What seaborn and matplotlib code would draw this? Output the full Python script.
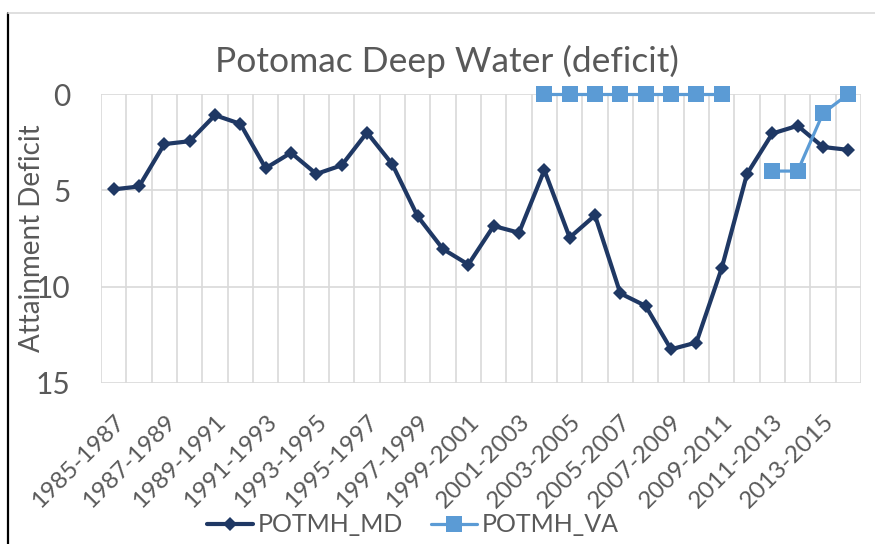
import numpy as np
import pandas as pd
import seaborn as sns
import matplotlib.pyplot as plt
from matplotlib.lines import Line2D

#=============================== Data
periods = ["1985-1987", "1986-1988", "1987-1989", "1988-1990", "1989-1991",
           "1990-1992", "1991-1993", "1992-1994", "1993-1995", "1994-1996",
           "1995-1997", "1996-1998", "1997-1999", "1998-2000", "1999-2001",
           "2000-2002", "2001-2003", "2002-2004", "2003-2005", "2004-2006",
           "2005-2007", "2006-2008", "2007-2009", "2008-2010", "2009-2011",
           "2010-2012", "2011-2013", "2012-2014", "2013-2015", "2014-2016"]
md_deficit = [4.95, 4.8, 2.6, 2.45, 1.1, 1.55, 3.85, 3.05, 4.15, 3.7,
              2.0, 3.65, 6.35, 8.05, 8.85, 6.85, 7.2, 3.95, 7.45, 6.3,
              10.35, 11.0, 13.25, 12.9, 9.05, 4.15, 2.05, 1.65, 2.75, 2.9]
va_deficit = [np.nan] * 17 + [0, 0, 0, 0, 0, 0, 0, 0, np.nan, 4, 4, 1, 0]
series_names = ["POTMH_MD", "POTMH_VA"]
y_ticks = [0, 5, 10, 15]

md_color = "#1F3864"
va_color = "#5B9BD5"
text_color = "#595959"
grid_color = "#D9D9D9"

#=============================== Frames
pos = np.arange(len(periods))
df_md = pd.DataFrame({"pos": pos, "deficit": md_deficit})
df_va = pd.DataFrame({"pos": pos, "deficit": va_deficit})
# split VA into connected runs so the gap stays a gap
df_va["segment"] = df_va["deficit"].isna().cumsum()
df_va = df_va.dropna()

#=============================== Plot
sns.set_theme(style="white")
plt.rcParams["font.family"] = ["Lato", "DejaVu Sans"]

fig = plt.figure(figsize=(8.75, 5.44), dpi=100)
ax = fig.add_axes([101 / 875, 1 - 383 / 544, 760 / 875, 289 / 544])

sns.lineplot(data=df_md, x="pos", y="deficit", ax=ax, color=md_color,
             linewidth=3, marker="D", markersize=7.5, markeredgewidth=0,
             estimator=None, legend=False, zorder=3, clip_on=False)
sns.lineplot(data=df_va, x="pos", y="deficit", units="segment", ax=ax,
             color=va_color, linewidth=2.3, marker="s", markersize=11,
             markeredgewidth=0, estimator=None, legend=False, zorder=4,
             clip_on=False)

ax.set_xlim(-0.5, len(periods) - 0.5)
ax.set_ylim(15, 0)
ax.set_yticks(y_ticks)
ax.set_xticks(pos[::2])
ax.set_xticklabels(periods[::2], rotation=45, ha="right",
                   rotation_mode="anchor", fontsize=17.5, color=text_color)
ax.set_xticks(np.arange(-0.5, len(periods)), minor=True)
ax.tick_params(axis="y", labelsize=21.5, labelcolor=text_color, length=0, pad=22)
ax.tick_params(axis="x", which="both", length=0, pad=20)

ax.grid(False)
ax.grid(axis="x", which="minor", color=grid_color, linewidth=1.2)
ax.grid(axis="y", which="major", color=grid_color, linewidth=1.2)
ax.set_axisbelow(True)
for s in ax.spines.values():
    s.set_visible(False)

ax.set_xlabel("")
ax.set_ylabel("Attainment Deficit", fontsize=20, color=text_color)
ax.yaxis.set_label_coords(-0.074, 0.5)
ax.set_title("Potomac Deep Water (deficit)", fontsize=25.5, color=text_color,
             pad=16, x=(447 - 101) / 760)

handles = [
    Line2D([], [], color=md_color, linewidth=3, marker="D", markersize=7.5,
           markeredgewidth=0),
    Line2D([], [], color=va_color, linewidth=2.3, marker="s", markersize=11,
           markeredgewidth=0),
]
fig.legend(handles, series_names, loc="center", bbox_to_anchor=(413 / 875, 1 - 525 / 544),
           ncol=2, frameon=False, fontsize=18, labelcolor=text_color,
           handlelength=1.85, handletextpad=0.2, columnspacing=1.1)

# chart-area border pieces visible in the reference
fig.add_artist(Line2D([8 / 875, 8 / 875], [0, 1 - 13 / 544], color="black", linewidth=1.6))
fig.add_artist(Line2D([8 / 875, 1], [1 - 13 / 544, 1 - 13 / 544], color="#D9D9D9", linewidth=1.2))

fig.savefig("out.png", dpi=100)
